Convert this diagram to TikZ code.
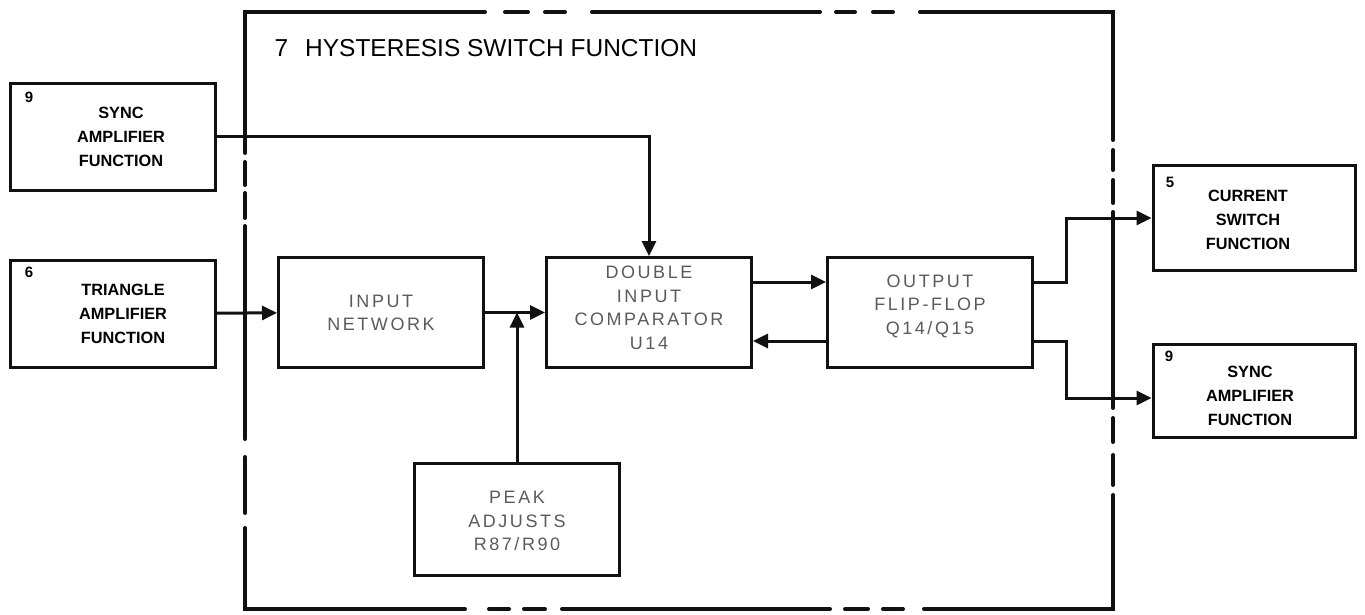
\documentclass[tikz,border=0pt]{standalone}
\usepackage{fontspec}
\setmainfont{Liberation Sans}
\newfontfamily\thinfont{Liberation Sans}[LetterSpace=14]
\usetikzlibrary{arrows.meta,positioning}
\definecolor{cLine}{HTML}{111111}
\definecolor{cFaint}{HTML}{5A5A5A}

\tikzset{
  outerbox/.style={draw=cLine, line width=3pt, minimum width=205pt, minimum height=107pt, inner sep=0pt},
  outertext/.style={align=center, font=\bfseries\fontsize{16.3}{24}\selectfont, inner sep=0pt},
  innerbox/.style={draw=cLine, line width=3pt, minimum width=205pt, minimum height=110pt, inner sep=0pt},
  innertext/.style={align=center, text=cFaint, font=\thinfont\fontsize{18}{23.5}\selectfont, inner sep=0pt},
  numlbl/.style={font=\bfseries\fontsize{15}{15}\selectfont, inner sep=0pt},
  link/.style={cLine, line width=3pt},
  arr/.style={link, -{Triangle[length=15pt,width=14pt]}},
  border/.style={cLine, line width=4pt, line cap=round},
}

\begin{document}
\begin{tikzpicture}[x=1pt, y=-1pt]
\useasboundingbox (0,0) rectangle (1365,615);

% Function boundary (broken line)
\draw[border] (245,153) |- (485,12);
\draw[border] (920,12) -| (1113,140);
\draw[border] (245,528) |- (465,609);
\draw[border] (924,609) -| (1113,495);
\foreach \a/\b in {505/528, 545/565, 592/820, 836/855, 873/893} {
    \draw[border] (\a,12) -- (\b,12);
}
\foreach \a/\b in {489/509, 524/545, 562/830, 845/868, 883/903} {
    \draw[border] (\a,609) -- (\b,609);
}
\foreach \a/\b in {162/185, 193/218, 226/439, 457/513} {
    \draw[border] (245,\a) -- (245,\b);
}
\foreach \a/\b in {150/170, 180/203, 212/408, 418/442, 455/485} {
    \draw[border] (1113,\a) -- (1113,\b);
}
\node[font=\fontsize{24.5}{24.5}\selectfont, anchor=west] (title) at (271,48) {7\hspace{17pt}HYSTERESIS SWITCH FUNCTION};

% Outside functions
\node[outerbox] (syncL) at (112.5,137) {};
\node[outertext] (syncLt) at (121,137) {SYNC\\AMPLIFIER\\FUNCTION};
\node[numlbl] (syncLn) at (29,97) {9};

\node[outerbox] (triL) at (112.5,313.5) {};
\node[outertext] (triLt) at (123,314) {TRIANGLE\\AMPLIFIER\\FUNCTION};
\node[numlbl] (triLn) at (29,272) {6};

\node[outerbox, minimum width=202pt, minimum height=105pt] (curr) at (1254,218) {};
\node[outertext] (currt) at (1248,220) {CURRENT\\SWITCH\\FUNCTION};
\node[numlbl] (currn) at (1170,182) {5};

\node[outerbox, minimum width=202pt, minimum height=93pt] (syncR) at (1254,390.5) {};
\node[outertext] (syncRt) at (1250,396) {SYNC\\AMPLIFIER\\FUNCTION};
\node[numlbl] (syncRn) at (1169,356) {9};

% Inside blocks
\node[innerbox] (innet) at (381,312.5) {};
\node[innertext] (innett) at (381,313) {INPUT\\NETWORK};
\node[innerbox] (comp) at (649,312.5) {};
\node[innertext] (compt) at (649,308) {DOUBLE\\INPUT\\COMPARATOR\\U14};
\node[innerbox] (flip) at (930,312.5) {};
\node[innertext] (flipt) at (930,306) {OUTPUT\\FLIP-FLOP\\Q14/Q15};
\node[innerbox, minimum height=112pt] (peak) at (517,519) {};
\node[innertext] (peakt) at (517,521) {PEAK\\ADJUSTS\\R87/R90};

% Signal paths
\draw[arr] (syncL.east) -| (comp.north);
\draw[arr] (triL) -- (innet);
\draw[arr] (innet) -- (comp);
\draw[arr] (peak.north) -- (peak.north |- innet.east);
\draw[arr] ([yshift=30.5pt]comp.east) -- ([yshift=30.5pt]flip.west);
\draw[arr] ([yshift=-28.5pt]flip.west) -- ([yshift=-28.5pt]comp.east);
\draw[arr] ([yshift=30.5pt]flip.east) -- ++(32,0) |- (curr.west);
\draw[arr] ([yshift=-28.5pt]flip.east) -- ++(32,0) |- ([yshift=-7.5pt]syncR.west);

\end{tikzpicture}
\end{document}
